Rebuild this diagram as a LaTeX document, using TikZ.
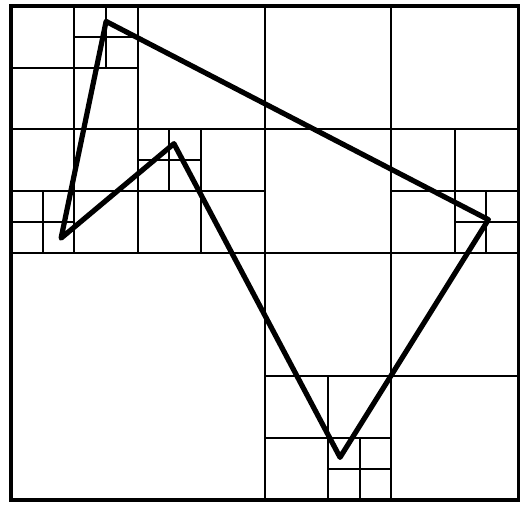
\documentclass[tikz,border=0pt]{standalone}
\begin{document}
\begin{tikzpicture}[
  x=31.7pt, y=30.875pt,
  cell/.style={draw, line width=1pt},
  frame/.style={draw, line width=1.6pt},
  outline/.style={draw, line width=2.6pt, line join=round}
]
\useasboundingbox (-0.1735,-0.081) rectangle (8.076,8.097);
% quadtree cells that are split in four: corner x / corner y / size
\foreach \cx/\cy/\s in {0/0/8, 0/4/4, 0/6/2, 1/7/1, 0/4/2, 0/4/1, 2/4/2, 2/5/1,
                        4/4/4, 6/4/2, 7/4/1, 4/0/4, 4/0/2, 5/0/1}
  \path[cell] ({\cx+\s/2},\cy) -- ({\cx+\s/2},{\cy+\s})
              (\cx,{\cy+\s/2}) -- ({\cx+\s},{\cy+\s/2});
\path[frame] (0,0) rectangle (8,8);
% polygon
\coordinate (top) at (1.50,7.75);
\coordinate (right) at (7.53,4.54);
\coordinate (bottom) at (5.19,0.69);
\coordinate (peak) at (2.57,5.77);
\coordinate (left) at (0.79,4.24);
\path[outline] (top) -- (right) -- (bottom) -- (peak) -- (left) -- cycle;
\end{tikzpicture}
\end{document}
